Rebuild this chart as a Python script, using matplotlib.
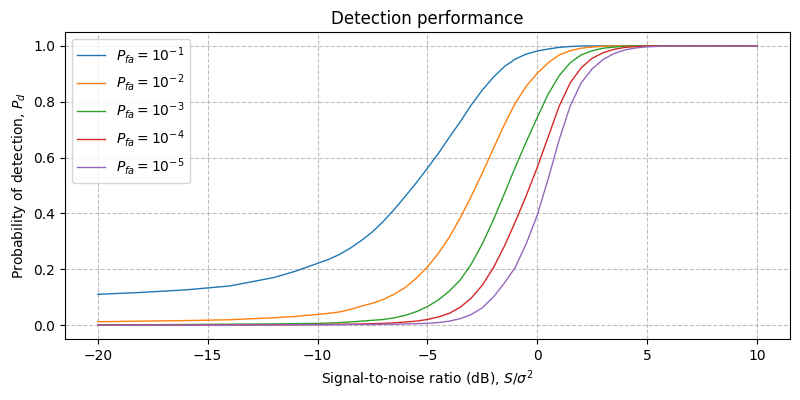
import numpy as np
import matplotlib
matplotlib.use("Agg")
import matplotlib.pyplot as plt

snr_db = [-20, -18, -16, -14, -12, -11, -10, -9.5, -9, -8.5,
          -8, -7.5, -7, -6.5, -6, -5.5, -5, -4.5,
          -4, -3.5, -3, -2.5, -2, -1.5, -1, -0.5,
          0, 0.5, 1, 1.5, 2, 2.5, 3, 3.5,
          4, 4.5, 5, 6, 8, 10]

pd_1 = [0.110, 0.117, 0.126, 0.140, 0.170, 0.193, 0.221, 0.235, 0.253, 0.276,
        0.303, 0.334, 0.372, 0.415, 0.462, 0.510, 0.562, 0.615,
        0.673, 0.729, 0.789, 0.842, 0.888, 0.926, 0.953, 0.971,
        0.982, 0.989, 0.995, 0.998, 1.0, 1.0, 1.0, 1.0,
        1.0, 1.0, 1.0, 1.0, 1.0, 1.0]
pd_2 = [0.012, 0.014, 0.016, 0.019, 0.026, 0.031, 0.038, 0.042, 0.047, 0.056,
        0.068, 0.078, 0.092, 0.111, 0.135, 0.168, 0.208, 0.257,
        0.315, 0.385, 0.462, 0.545, 0.632, 0.718, 0.795, 0.856,
        0.902, 0.940, 0.968, 0.983, 0.992, 0.996, 0.999, 1.0,
        1.0, 1.0, 1.0, 1.0, 1.0, 1.0]
pd_3 = [0.001, 0.001, 0.002, 0.003, 0.004, 0.005, 0.006, 0.007, 0.009, 0.011,
        0.014, 0.017, 0.020, 0.026, 0.035, 0.048, 0.066, 0.090,
        0.122, 0.162, 0.219, 0.291, 0.376, 0.470, 0.566, 0.657,
        0.744, 0.828, 0.894, 0.940, 0.968, 0.983, 0.992, 0.996,
        0.999, 1.0, 1.0, 1.0, 1.0, 1.0]
pd_4 = [0.0, 0.0, 0.0, 0.001, 0.001, 0.001, 0.002, 0.002, 0.003, 0.003,
        0.004, 0.005, 0.006, 0.008, 0.011, 0.014, 0.020, 0.029,
        0.042, 0.064, 0.097, 0.143, 0.205, 0.282, 0.370, 0.464,
        0.565, 0.675, 0.785, 0.868, 0.922, 0.956, 0.976, 0.988,
        0.995, 0.998, 1.0, 1.0, 1.0, 1.0]
pd_5 = [0.0, 0.0, 0.0, 0.0, 0.0, 0.001, 0.001, 0.001, 0.001, 0.002,
        0.002, 0.002, 0.003, 0.003, 0.004, 0.005, 0.006, 0.009,
        0.014, 0.023, 0.038, 0.062, 0.100, 0.150, 0.207, 0.292,
        0.394, 0.525, 0.665, 0.785, 0.868, 0.918, 0.952, 0.973,
        0.986, 0.993, 0.997, 1.0, 1.0, 1.0]

series = [pd_1, pd_2, pd_3, pd_4, pd_5]
exponents = [1, 2, 3, 4, 5]

fig, ax = plt.subplots(figsize=(8, 4), dpi=100)
fig.subplots_adjust(left=0.081, right=0.9875, top=0.92, bottom=0.1525)

for pd, k in zip(series, exponents):
    ax.plot(snr_db, pd, lw=1, label=r"$P_{fa} = 10^{-%d}$" % k)

ax.set_title("Detection performance")
ax.set_xlabel(r"Signal-to-noise ratio (dB), $S/\sigma^2$")
ax.set_ylabel(r"Probability of detection, $P_d$")
ax.grid(True, linestyle="--", alpha=0.8)
ax.legend(loc="upper left")

fig.savefig("out.png")
